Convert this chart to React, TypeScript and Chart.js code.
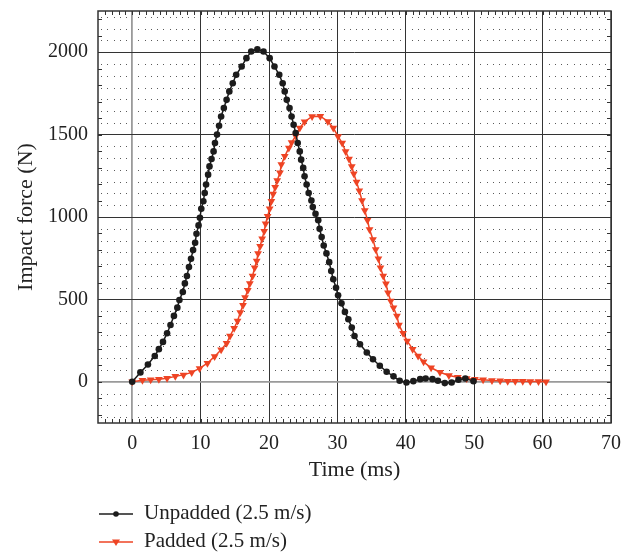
import { useEffect, useRef } from 'react';
import { Chart, registerables } from 'chart.js';

Chart.register(...registerables);

const SERIF = '"Liberation Serif", "DejaVu Serif", serif';

const xTicks = [0, 10, 20, 30, 40, 50, 60, 70];
const yTicks = [0, 500, 1000, 1500, 2000];

const unpaddedLabel = 'Unpadded (2.5 m/s)';
const paddedLabel = 'Padded (2.5 m/s)';

const unpaddedT = [
  0, 1.2, 2.3, 3.3, 3.9, 4.5, 5.1, 5.6, 6.1, 6.6, 6.9, 7.4, 7.7, 8.0, 8.3, 8.6, 8.9, 9.2, 9.4, 9.7,
  9.9, 10.1, 10.4, 10.6, 10.8, 11.1, 11.3, 11.6, 11.9, 12.1, 12.4, 12.7, 13.0, 13.4, 13.8, 14.2, 14.7, 15.2, 16.0, 16.7,
  17.4, 18.3, 19.2, 20.1, 20.8, 21.5, 22.0, 22.3, 22.6, 23.0, 23.3, 23.6, 23.9, 24.2, 24.5, 24.7, 25.0, 25.2, 25.5, 25.8,
  26.2, 26.4, 26.8, 27.2, 27.4, 27.7, 28.0, 28.4, 28.8, 29.1, 29.4, 29.8, 30.1, 30.6, 31.1, 31.6, 32.1, 32.5, 33.3, 34.3,
  35.2, 36.2, 37.2, 38.2, 39.1, 40.1, 41.1, 42.1, 42.9, 43.9, 44.7, 45.7, 46.7, 47.7, 48.7, 49.9,
];
const unpaddedF = [
  0, 57, 105, 157, 198, 242, 295, 345, 400, 450, 496, 545, 597, 642, 696, 747, 799, 844, 898, 949,
  995, 1050, 1096, 1146, 1197, 1257, 1307, 1352, 1398, 1449, 1500, 1554, 1610, 1661, 1711, 1762, 1812, 1863, 1913, 1964,
  2004, 2018, 2004, 1964, 1913, 1863, 1812, 1762, 1711, 1661, 1610, 1560, 1510, 1449, 1398, 1348, 1298, 1247, 1197, 1146,
  1100, 1060, 1020, 981, 928, 878, 827, 779, 726, 672, 622, 571, 525, 476, 424, 380, 329, 278, 228, 178,
  137, 97, 61, 33, 6, -4, 4, 16, 20, 16, 6, -8, -4, 12, 20, 4,
];

const paddedT = [
  0, 1.5, 2.7, 3.9, 5.1, 6.3, 7.5, 8.7, 9.85, 11.0, 12.05, 13.0, 13.8, 14.3, 14.9, 15.4, 15.8, 16.2, 16.5, 16.9,
  17.2, 17.6, 17.9, 18.2, 18.4, 18.7, 19.0, 19.3, 19.5, 19.8, 20.1, 20.35, 20.6, 20.9, 21.2, 21.6, 21.8, 22.3, 22.9, 23.3,
  23.9, 24.5, 25.2, 26.3, 27.5, 28.6, 29.4, 30.1, 30.7, 31.2, 31.7, 32.1, 32.4, 32.8, 33.2, 33.6, 34.0, 34.4, 34.7, 35.2,
  35.6, 36.0, 36.3, 36.7, 37.1, 37.4, 37.8, 38.2, 38.7, 39.0, 39.6, 40.2, 41.0, 41.8, 42.6, 43.7, 45.0, 46.3, 47.6, 48.9,
  50.1, 51.3, 52.6, 53.8, 54.9, 56.0, 57.1, 58.2, 59.4, 60.5,
];
const paddedF = [
  0, 10, 12, 16, 22, 33, 42, 57, 81, 113, 154, 194, 234, 278, 325, 369, 420, 464, 511, 555,
  597, 642, 692, 733, 779, 823, 868, 914, 959, 1005, 1050, 1096, 1140, 1180, 1222, 1268, 1318, 1368, 1419, 1452,
  1492, 1540, 1578, 1610, 1612, 1580, 1540, 1489, 1449, 1398, 1352, 1307, 1263, 1212, 1160, 1100, 1040, 980, 924, 864,
  803, 747, 692, 642, 595, 541, 490, 450, 400, 345, 295, 248, 198, 157, 121, 85, 58, 38, 27, 20,
  16, 12, 8, 6, 4, 4, 3, 2, 2, 0,
];

const BLACK = '#1c1c1c';
const RED = '#ee4424';

const decor = {
  id: 'decor',
  beforeDatasetsDraw(chart: any) {
    const { ctx, chartArea: a, scales } = chart;
    const x = scales.x;
    const y = scales.y;
    ctx.save();
    // dotted minor grid (dot matrix)
    ctx.fillStyle = '#5a5a5a';
    for (let c = -10; c < 70; c += 10) {
      for (let i = 1; i <= 10; i++) {
        const t = c + (i * 10) / 11;
        if (t <= -5 || t >= 70) continue;
        const px = Math.round(x.getPixelForValue(t));
        for (let r = -500; r < 2250; r += 500) {
          for (let j = 1; j <= 6; j++) {
            const v = r + (j * 500) / 7;
            if (v <= -250 || v >= 2250) continue;
            const py = Math.round(y.getPixelForValue(v));
            ctx.fillRect(px, py, 1, 1);
          }
        }
      }
    }
    // inward minor ticks
    ctx.strokeStyle = '#333';
    ctx.lineWidth = 1;
    ctx.beginPath();
    for (let t = -4; t < 70; t++) {
      const px = Math.round(x.getPixelForValue(t)) + 0.5;
      ctx.moveTo(px, a.top);
      ctx.lineTo(px, a.top + 4);
      ctx.moveTo(px, a.bottom);
      ctx.lineTo(px, a.bottom - 4);
    }
    for (let v = -200; v < 2250; v += 100) {
      const py = Math.round(y.getPixelForValue(v)) + 0.5;
      ctx.moveTo(a.left, py);
      ctx.lineTo(a.left + 4, py);
      ctx.moveTo(a.right, py);
      ctx.lineTo(a.right - 4, py);
    }
    ctx.stroke();
    // frame
    ctx.lineWidth = 1.5;
    ctx.strokeStyle = '#333';
    ctx.strokeRect(a.left, a.top, a.right - a.left, a.bottom - a.top);
    ctx.restore();
  },
  afterDraw(chart: any) {
    const { ctx } = chart;
    ctx.save();
    const rows = [
      { label: unpaddedLabel, color: BLACK, y: 514, tri: false },
      { label: paddedLabel, color: RED, y: 542, tri: true },
    ];
    for (const r of rows) {
      ctx.strokeStyle = r.color;
      ctx.fillStyle = r.color;
      ctx.lineWidth = 1.5;
      ctx.beginPath();
      ctx.moveTo(99, r.y);
      ctx.lineTo(133, r.y);
      ctx.stroke();
      ctx.beginPath();
      if (r.tri) {
        ctx.moveTo(116, r.y + 4);
        ctx.lineTo(112, r.y - 2.5);
        ctx.lineTo(120, r.y - 2.5);
        ctx.closePath();
      } else {
        ctx.arc(116, r.y, 2.8, 0, Math.PI * 2);
      }
      ctx.fill();
      ctx.fillStyle = '#222';
      ctx.font = `21px ${SERIF}`;
      ctx.textBaseline = 'middle';
      ctx.textAlign = 'left';
      ctx.fillText(r.label, 144, r.y - 1);
    }
    ctx.restore();
  },
};

export default function App() {
  const ref = useRef<HTMLCanvasElement>(null);
  useEffect(() => {
    const canvas = ref.current;
    if (!canvas) return;
    const chart = new Chart(canvas, {
      type: 'line',
      data: {
        datasets: [
          {
            label: unpaddedLabel,
            data: unpaddedT.map((t, i) => ({ x: t, y: unpaddedF[i] })),
            borderColor: BLACK,
            backgroundColor: BLACK,
            borderWidth: 1.5,
            pointStyle: 'circle',
            pointRadius: 3.3,
            pointBorderWidth: 0,
            tension: 0,
          },
          {
            label: paddedLabel,
            data: paddedT.map((t, i) => ({ x: t, y: paddedF[i] })),
            borderColor: RED,
            backgroundColor: RED,
            borderWidth: 1.5,
            pointStyle: 'triangle',
            pointRotation: 180,
            pointRadius: 4.5,
            pointBorderWidth: 0,
            tension: 0,
          },
        ],
      },
      options: {
        responsive: false,
        animation: false,
        devicePixelRatio: 1,
        layout: { padding: { left: 0, right: 19, top: 11, bottom: 0 } },
        plugins: { legend: { display: false }, tooltip: { enabled: false } },
        scales: {
          x: {
            type: 'linear',
            min: -5,
            max: 70,
            afterBuildTicks: (s: any) => {
              s.ticks = xTicks.map((v) => ({ value: v }));
            },
            afterFit: (s: any) => {
              s.height = 131;
              s.paddingLeft = 0;
              s.paddingRight = 0;
            },
            ticks: {
              font: { family: SERIF, size: 20 },
              color: '#222',
              padding: 9,
              maxRotation: 0,
              autoSkip: false,
              callback: (v: any) => String(v),
            },
            grid: {
              drawTicks: false,
              color: (c: any) => (c.tick && c.tick.value === 0 ? '#9a9a9a' : '#333'),
              lineWidth: (c: any) => (c.tick && c.tick.value === 0 ? 1.8 : 1),
            },
            border: { display: false },
            title: {
              display: true,
              text: 'Time (ms)',
              font: { family: SERIF, size: 22 },
              color: '#222',
              padding: { top: 0, bottom: 71 },
            },
          },
          y: {
            type: 'linear',
            min: -250,
            max: 2250,
            afterBuildTicks: (s: any) => {
              s.ticks = yTicks.map((v) => ({ value: v }));
            },
            afterFit: (s: any) => {
              s.width = 98;
              s.paddingTop = 0;
              s.paddingBottom = 0;
            },
            ticks: {
              font: { family: SERIF, size: 20 },
              color: '#222',
              padding: 10,
              callback: (v: any) => String(v),
            },
            grid: {
              drawTicks: false,
              color: (c: any) => (c.tick && c.tick.value === 0 ? '#9a9a9a' : '#333'),
              lineWidth: (c: any) => (c.tick && c.tick.value === 0 ? 1.8 : 1),
            },
            border: { display: false },
            title: {
              display: true,
              text: 'Impact force (N)',
              font: { family: SERIF, size: 22 },
              color: '#222',
              padding: { top: 13, bottom: 0 },
            },
          },
        },
      },
      plugins: [decor],
    } as any);
    return () => chart.destroy();
  }, []);
  return (
    <div style={{ position: 'absolute', left: 0, top: 0, width: 630, height: 554, background: '#fff' }}>
      <canvas ref={ref} width={630} height={554} style={{ display: 'block', width: 630, height: 554 }} />
    </div>
  );
}
